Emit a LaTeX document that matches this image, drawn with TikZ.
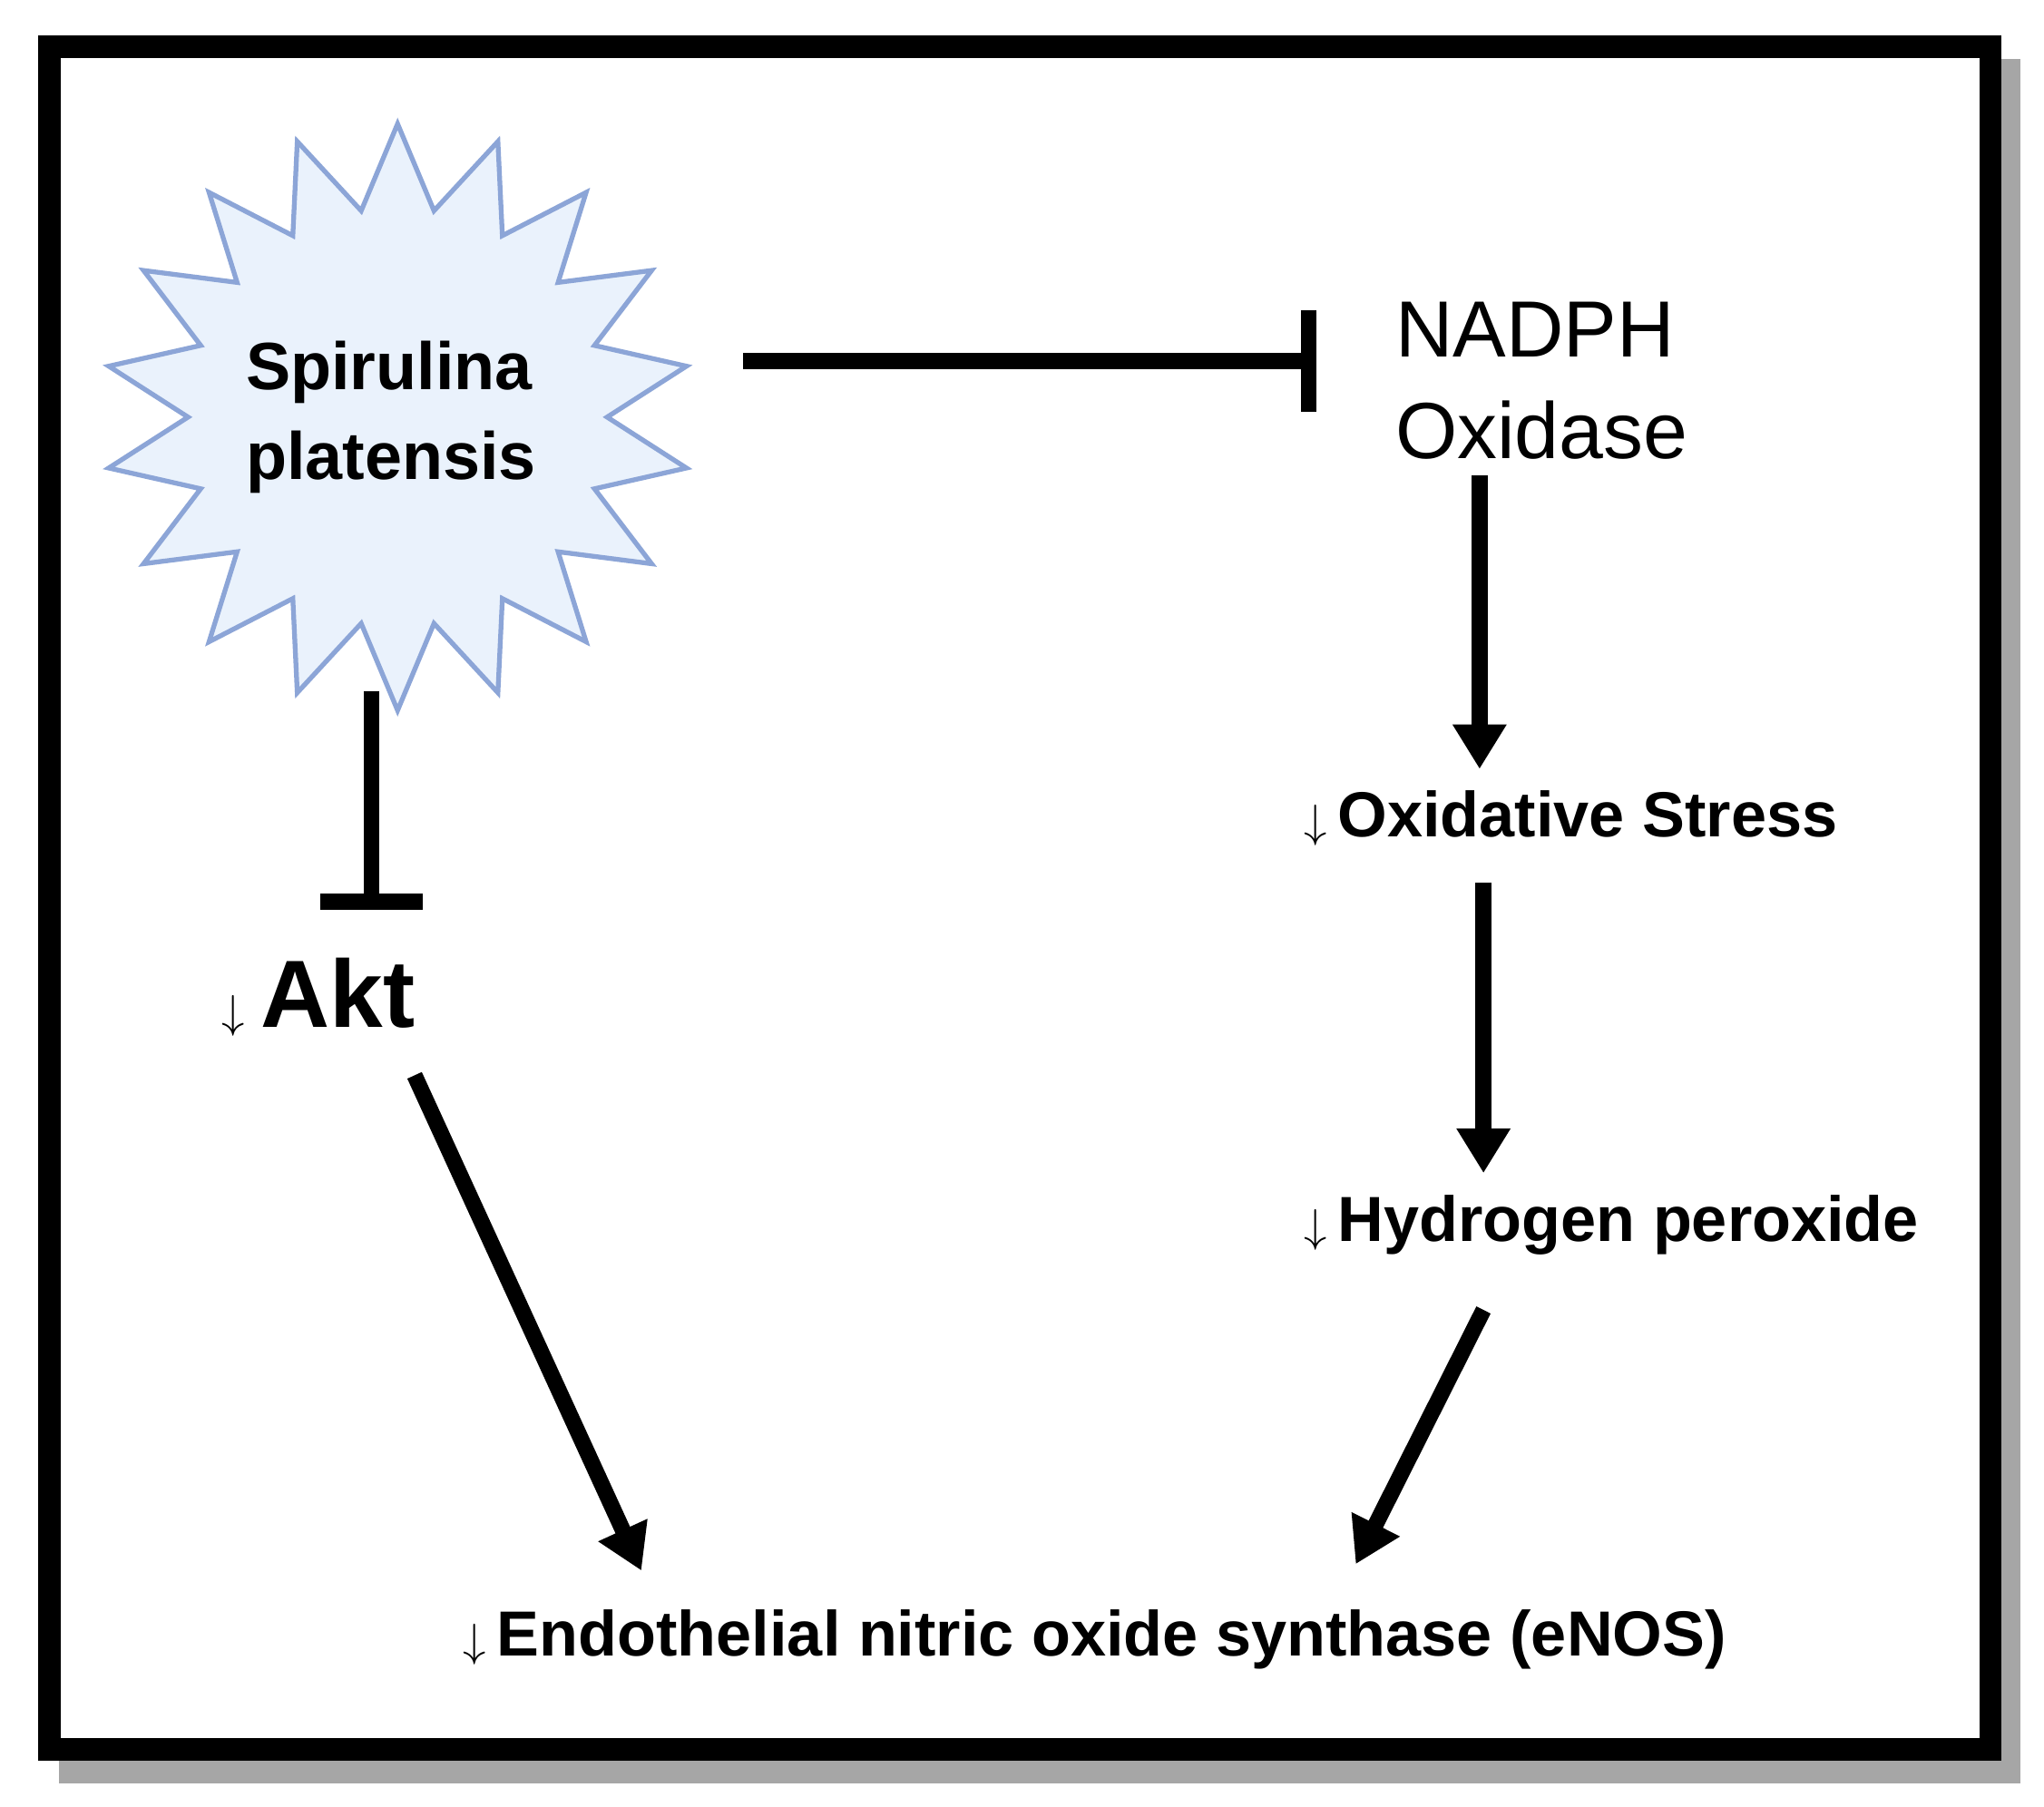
\documentclass[tikz,border=0pt]{standalone}
\usepackage{fontspec}
\setmainfont{Liberation Sans}
\usetikzlibrary{arrows.meta,shapes.geometric,positioning}
\definecolor{starfill}{RGB}{234,242,252}
\definecolor{stardraw}{RGB}{140,165,215}
\tikzstyle{lbl}=[font=\bfseries\fontsize{20}{24}\selectfont,anchor=west,inner sep=0pt]
\tikzstyle{act}=[line width=5pt,-{Triangle[length=14pt,width=16pt]}]
\tikzstyle{inh}=[line width=5pt,-{Bar[width=32pt,line width=5pt]}]

\begin{document}
\begin{tikzpicture}[x=0.01437cm,y=-0.01437cm]
  \useasboundingbox (0,0) rectangle (1568,1386);
  % frame
  \fill[black!35] (45,45) rectangle (1550,1368);
  \fill[white] (30,28) rectangle (1535,1350);
  \draw[line width=7pt] (38,36) rectangle (1527,1342);
  % nodes
  \node[star,star points=18,star point ratio=1.4,minimum size=450*0.01437cm,
        fill=starfill,draw=stardraw,line width=1.5pt] (sp) at (305,320) {};
  \node[font=\bfseries\fontsize{21}{28}\selectfont,align=left] (name) at (300,320) {Spirulina\\platensis};
  \node[anchor=west,inner sep=0pt,font=\fontsize{25}{32}\selectfont,align=left] (nox) at (1070,292) {NADPH\\Oxidase};
  \node[lbl] (ox) at (1000,628) {{\Large$\downarrow$}\,Oxidative Stress};
  \node[lbl] (h2o2) at (1000,940) {{\Large$\downarrow$}\,Hydrogen peroxide};
  \node[lbl,font=\bfseries\fontsize{30}{36}\selectfont] (akt) at (170,765) {{\Large$\downarrow$}\,Akt};
  \node[lbl] (enos) at (355,1258) {{\Large$\downarrow$}\,Endothelial nitric oxide synthase (eNOS)};
  % connector ends
  \coordinate (spout) at (570,277);
  \coordinate (nadin) at (1010,277);
  \coordinate (spdown) at (285,530);
  \coordinate (aktin) at (285,698);
  \coordinate (noxout) at (1135,365);
  \coordinate (oxin) at (1135,590);
  \coordinate (oxout) at (1138,677);
  \coordinate (h2in) at (1138,900);
  \coordinate (h2out) at (1138,1005);
  \coordinate (aktout) at (318,825);
  \coordinate (enl) at (492,1205);
  \coordinate (enr) at (1040,1200);
  % connectors
  \draw[inh] (spout) -- (nadin);
  \draw[inh] (spdown) -- (aktin);
  \draw[act] (noxout) -- (oxin);
  \draw[act] (oxout) -- (h2in);
  \draw[act] (h2out) -- (enr);
  \draw[act] (aktout) -- (enl);
\end{tikzpicture}
\end{document}
